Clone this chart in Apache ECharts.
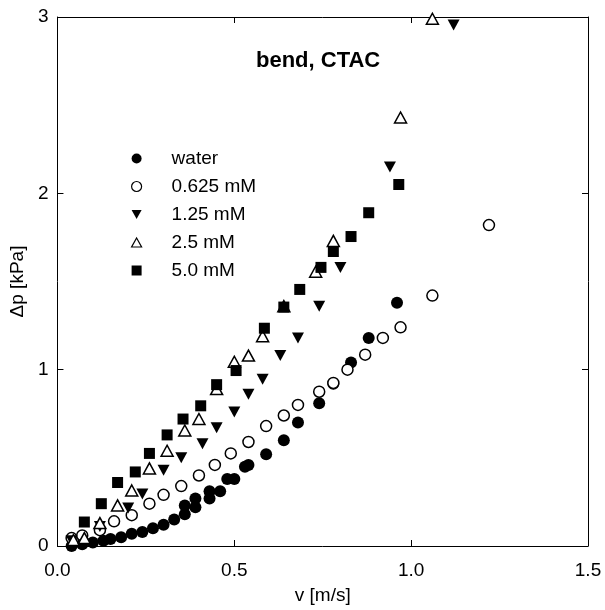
<!DOCTYPE html>
<html>
<head>
<meta charset="utf-8">
<script src="https://cdn.jsdelivr.net/npm/echarts@6/dist/echarts.min.js"></script>
<style>html,body{margin:0;padding:0;background:#fff}#c{width:605px;height:610px}</style>
</head>
<body>
<div id="c"></div>
<script>
var seriesNames = ['water', '0.625 mM', '1.25 mM', '2.5 mM', '5.0 mM'];
var xTicks = ['0.0', '0.5', '1.0', '1.5'];
var yTicks = ['0', '1', '2', '3'];

var water = [[0.04,0.00],[0.07,0.01],[0.10,0.02],[0.13,0.03],[0.15,0.04],[0.18,0.05],[0.21,0.07],[0.24,0.08],[0.27,0.10],[0.30,0.12],[0.33,0.15],[0.36,0.18],[0.36,0.23],[0.39,0.22],[0.39,0.27],[0.43,0.27],[0.43,0.31],[0.46,0.31],[0.48,0.38],[0.50,0.38],[0.53,0.45],[0.54,0.46],[0.59,0.52],[0.64,0.60],[0.68,0.70],[0.74,0.81],[0.78,0.92],[0.83,1.04],[0.88,1.18],[0.96,1.38]];
var c0625 = [[0.04,0.045],[0.07,0.06],[0.12,0.09],[0.16,0.14],[0.21,0.175],[0.26,0.24],[0.30,0.29],[0.35,0.34],[0.40,0.40],[0.445,0.46],[0.49,0.525],[0.54,0.59],[0.59,0.68],[0.64,0.74],[0.68,0.80],[0.74,0.875],[0.78,0.925],[0.82,1.00],[0.87,1.085],[0.92,1.18],[0.97,1.24],[1.06,1.42],[1.22,1.82]];
var c125 = [[0.04,0.03],[0.12,0.11],[0.20,0.215],[0.24,0.295],[0.30,0.43],[0.35,0.50],[0.41,0.58],[0.45,0.67],[0.50,0.76],[0.54,0.86],[0.58,0.945],[0.63,1.08],[0.68,1.18],[0.74,1.36],[0.80,1.58],[0.94,2.15],[1.12,2.955]];
var c25 = [[0.045,0.034],[0.076,0.045],[0.12,0.13],[0.17,0.23],[0.21,0.315],[0.26,0.44],[0.31,0.54],[0.36,0.655],[0.40,0.72],[0.45,0.89],[0.50,1.045],[0.54,1.08],[0.58,1.19],[0.64,1.36],[0.73,1.555],[0.78,1.73],[0.97,2.43],[1.06,2.99]];
var c50 = [[0.076,0.136],[0.124,0.24],[0.17,0.36],[0.22,0.42],[0.26,0.525],[0.31,0.63],[0.355,0.72],[0.405,0.795],[0.45,0.915],[0.505,0.995],[0.585,1.235],[0.64,1.355],[0.685,1.455],[0.745,1.58],[0.78,1.67],[0.83,1.755],[0.88,1.89],[0.965,2.05]];

var allData = [water, c0625, c125, c25, c50];
var DOWN = 'path://M0,0 L10,0 L5,9 Z';
var UP = 'path://M5,0 L10,9 L0,9 Z';
var symbols = ['circle', 'circle', DOWN, UP, 'rect'];
var filled = [true, false, true, false, true];
var sizes = [[12,12], [11,11], [12,11], [12,11], [11,11]];

var FONT = '"Liberation Sans", Arial, sans-serif';
var chart = echarts.init(document.getElementById('c'), null, {renderer: 'canvas'});

var series = allData.map(function (d, i) {
  return {
    name: seriesNames[i],
    type: 'scatter',
    data: d,
    symbol: symbols[i],
    symbolSize: sizes[i],
    clip: false,
    itemStyle: {
      color: filled[i] ? '#000' : '#fff',
      borderColor: '#000',
      borderWidth: filled[i] ? 0 : 1.5,
      opacity: 1
    },
    emphasis: {disabled: true}
  };
});

function axisCommon(extra) {
  return Object.assign({
    axisLine: {show: true, onZero: false, lineStyle: {color: '#000', width: 1}},
    axisTick: {show: true, inside: true, length: 6, lineStyle: {color: '#000', width: 1}},
    splitLine: {show: false}
  }, extra);
}

chart.setOption({
  animation: false,
  backgroundColor: '#fff',
  title: {
    text: 'bend, CTAC',
    left: 251, top: 45,
    textStyle: {fontFamily: FONT, fontSize: 22, fontWeight: 'bold', color: '#000'}
  },
  legend: {
    orient: 'vertical',
    left: 126, top: 144,
    itemWidth: 10, itemHeight: 10,
    itemGap: 9,
    data: seriesNames.map(function (n, i) {
      return {
        name: n,
        icon: symbols[i],
        itemStyle: {
          color: filled[i] ? '#000' : '#fff',
          borderColor: '#000',
          borderWidth: filled[i] ? 0 : 1.2,
          opacity: 1
        }
      };
    }),
    textStyle: {fontFamily: FONT, fontSize: 19, color: '#000', padding: [0, 0, 0, 25]},
    selectedMode: false
  },
  grid: {left: 56, right: 17, top: 17, bottom: 62, containLabel: false},
  xAxis: [
    axisCommon({
      type: 'value', min: 0, max: 1.5, interval: 0.5, position: 'bottom',
      name: 'v [m/s]', nameLocation: 'middle', nameGap: 40,
      nameTextStyle: {fontFamily: FONT, fontSize: 19, color: '#000'},
      axisLabel: {
        margin: 15, fontFamily: FONT, fontSize: 19, color: '#000',
        formatter: function (v) { return xTicks[Math.round(v / 0.5)]; }
      }
    }),
    axisCommon({
      type: 'value', min: 0, max: 1.5, interval: 0.5, position: 'top',
      axisLabel: {show: false}
    })
  ],
  yAxis: [
    axisCommon({
      type: 'value', min: 0, max: 3, interval: 1, position: 'left',
      name: 'Δp [kPa]', nameLocation: 'middle', nameGap: 28, nameRotate: 90,
      nameTextStyle: {fontFamily: FONT, fontSize: 19, color: '#000'},
      axisLabel: {
        margin: 9, fontFamily: FONT, fontSize: 19, color: '#000',
        formatter: function (v) { return yTicks[Math.round(v)]; }
      }
    }),
    axisCommon({
      type: 'value', min: 0, max: 3, interval: 1, position: 'right',
      axisLabel: {show: false}
    })
  ],
  series: series
});
</script>
</body>
</html>
